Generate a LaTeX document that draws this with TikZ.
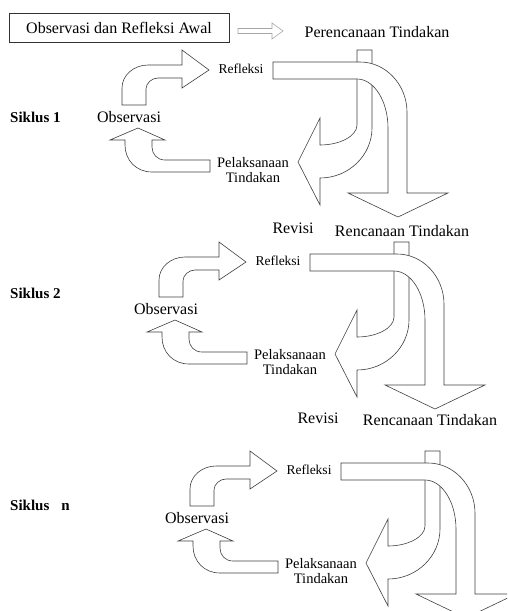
\documentclass[tikz,border=0pt]{standalone}
\usepackage{fontspec}
\setmainfont{Liberation Serif}
\usepackage{tikz}

\tikzset{
	blok/.style={draw=black!75, fill=white, line width=0.6pt},
	teks/.style={font=\fontsize{16}{18}\selectfont, inner sep=1pt},
	duabaris/.style={font=\fontsize{14.5}{15.5}\selectfont, inner sep=0pt, align=center},
	kecil/.style={font=\fontsize{13.5}{15}\selectfont, inner sep=1pt},
	sikluslabel/.style={font=\fontsize{15}{17}\selectfont\bfseries, anchor=west, inner sep=0pt},
}

\begin{document}
\begin{tikzpicture}[x=1pt,y=-1pt]
		\useasboundingbox (0,0) rectangle (507,611);
		\clip (0,0) rectangle (507,611);
		%initial box
		\node[draw=black!80, line width=0.6pt, minimum width=220pt, minimum height=29pt, teks] (awal) at (119,27.5) {Observasi dan Refleksi Awal};
		%hollow arrow
		\draw[gray!70, line width=0.6pt] (238,28.5) -- (272,28.5) -- (272,23) -- (283,31) -- (272,39) -- (272,33.5) -- (238,33.5) -- cycle;
		\node[teks] (renc1) at (377,32) {Perencanaan Tindakan};
		
		%the three cycles
		\foreach \dx/\dy/\i in {0/0/1,37/192/2,68/401/3}{
			\begin{scope}[shift={(\dx,\dy)}]
				%plan to action
				\draw[blok] (357,50) -- (372,50) -- (372,128) .. controls (372,155) and (349,178) .. (320,178) -- (320,205) -- (298,162) -- (320,118) -- (320,145) .. controls (340,145) and (357,136) .. (357,125) -- cycle;
				%reflection to next plan
				\draw[blok] (273,62) -- (360,62) .. controls (386,62) and (407,85) .. (407,112) -- (407,193) -- (448,193) -- (398,217) -- (348,193) -- (388,193) -- (388,128) .. controls (388,101) and (374,79) .. (357,79) -- (273,79) -- cycle;
				%observation to reflection
				\draw[blok] (122,105) -- (122,88) .. controls (122,75) and (134,65) .. (148,65) -- (182,65) -- (182,50) -- (209,70) -- (182,88) -- (182,78) -- (158,78) .. controls (152,78) and (146,83) .. (146,89) -- (146,105) -- cycle;
				%action to observation
				\draw[blok] (210,160) -- (165,160) .. controls (157,160) and (152,154) .. (152,147) -- (152,140) -- (165,140) -- (138,128) -- (110,140) -- (125,140) -- (125,145) .. controls (125,160) and (136,172) .. (152,172) -- (210,172) -- cycle;
				
				%nodes
				\node[teks] (obs\i) at (129,117) {Observasi};
				\node[kecil] (ref\i) at (241,69) {Refleksi};
				\node[duabaris] (pel\i) at (253,170) {Pelaksanaan\\Tindakan};
			\end{scope}
		}
		
		%cycle labels
		\node[sikluslabel] (sik1) at (10,117) {Siklus 1};
		\node[sikluslabel] (sik2) at (10,293) {Siklus 2};
		\node[sikluslabel] (sik3) at (10,505) {Siklus\hspace{12pt}n};
		\node[teks] (rev2) at (293,228) {Revisi};
		\node[teks] (renc2) at (402,231) {Rencanaan Tindakan};
		\node[teks] (rev3) at (318,418) {Revisi};
		\node[teks] (renc3) at (430,420) {Rencanaan Tindakan};
	\end{tikzpicture}
\end{document}
